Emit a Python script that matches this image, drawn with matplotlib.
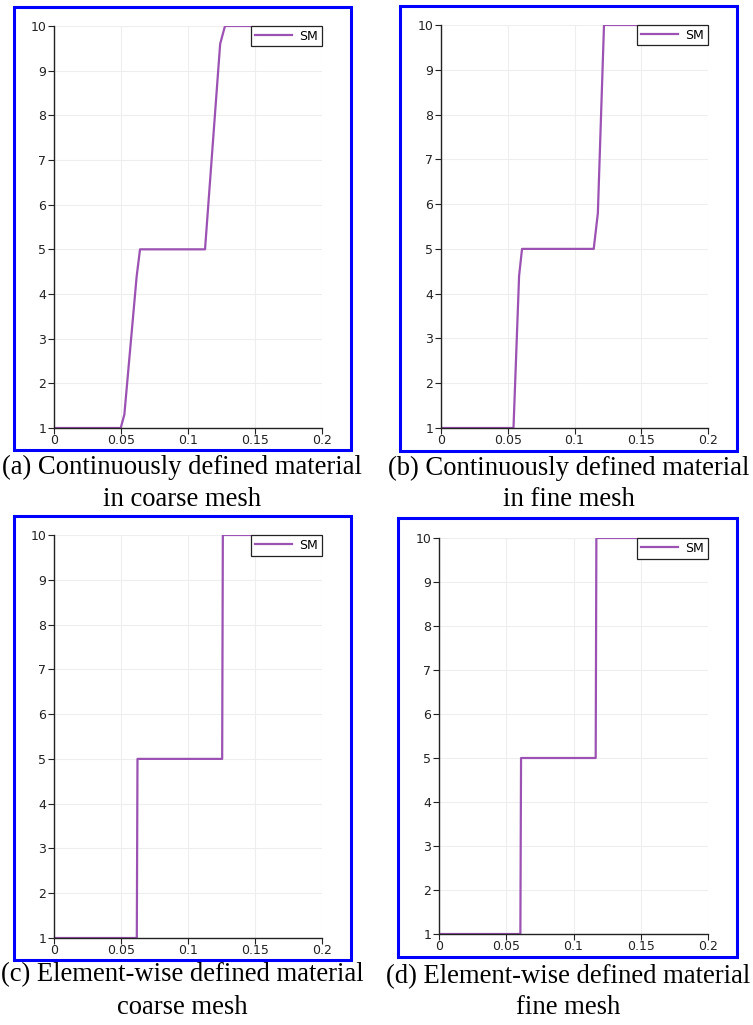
import matplotlib
matplotlib.use("Agg")
import matplotlib.pyplot as plt
from matplotlib.patches import Rectangle

W, H = 753, 1025

# Panel data: position along the bar vs. material value
x_a = [0, 0.0498, 0.0525, 0.0617, 0.0642, 0.1127, 0.1240, 0.1276, 0.2]
y_a = [1, 1, 1.3, 4.4, 5, 5, 9.6, 10, 10]

x_b = [0, 0.0543, 0.0585, 0.0607, 0.1144, 0.1175, 0.1221, 0.2]
y_b = [1, 1, 4.4, 5, 5, 5.8, 10, 10]

x_c = [0, 0.0618, 0.0623, 0.1255, 0.1260, 0.2]
y_c = [1, 1, 5, 5, 10, 10]

x_d = [0, 0.0605, 0.0610, 0.1165, 0.1170, 0.2]
y_d = [1, 1, 5, 5, 10, 10]

series_label = "SM"
x_ticks = [0, 0.05, 0.1, 0.15, 0.2]
x_ticklabels = ["0", "0.05", "0.1", "0.15", "0.2"]
y_ticks = [1, 2, 3, 4, 5, 6, 7, 8, 9, 10]

captions = [
    ("(a) Continuously defined material", "in coarse mesh"),
    ("(b) Continuously defined material", "in fine mesh"),
    ("(c) Element-wise defined material", "coarse mesh"),
    ("(d) Element-wise defined material", "fine mesh"),
]

# layout in pixels: axes (left, right, top, bottom), frame (left, right, top, bottom),
# caption (center x, first-line y, second-line y)
panels = [
    dict(x=x_a, y=y_a, ax=(54, 322, 26, 428), fr=(14, 351, 7, 450), cap=(182, 467, 500)),
    dict(x=x_b, y=y_b, ax=(441, 708, 25, 428), fr=(400, 737, 6, 451), cap=(569, 468, 500)),
    dict(x=x_c, y=y_c, ax=(54, 322, 535, 938), fr=(14, 351, 516, 960), cap=(182, 975, 1008)),
    dict(x=x_d, y=y_d, ax=(439, 708, 538, 934), fr=(398, 737, 518, 957), cap=(568, 977, 1008)),
]

line_color = "#9b52b3"

fig = plt.figure(figsize=(W / 100, H / 100), dpi=100)
fig.patch.set_facecolor("white")

for p, cap in zip(panels, captions):
    l, r, t, b = p["ax"]
    ax = fig.add_axes([l / W, 1 - b / H, (r - l) / W, (b - t) / H])
    ax.plot(p["x"], p["y"], color=line_color, lw=1.6, label=series_label)
    ax.set_xlim(0, 0.2)
    ax.set_ylim(1, 10)
    ax.set_xticks(x_ticks)
    ax.set_xticklabels(x_ticklabels)
    ax.set_yticks(y_ticks)
    ax.grid(True, color="#eeeeee", lw=0.8)
    ax.set_axisbelow(True)
    for s in ("top", "right"):
        ax.spines[s].set_visible(False)
    for s in ("left", "bottom"):
        ax.spines[s].set_color("#222222")
        ax.spines[s].set_linewidth(1.0)
    ax.tick_params(axis="both", labelsize=9, colors="#222222", length=4,
                   width=0.8, pad=1.5)
    ax.tick_params(axis="x", pad=0.5)
    leg = ax.legend(loc="upper right", borderaxespad=0, fancybox=False,
                    frameon=True, fontsize=9, handlelength=3.0,
                    handletextpad=0.6, borderpad=0.3)
    leg.get_frame().set_edgecolor("#222222")
    leg.get_frame().set_linewidth(0.9)
    leg.get_frame().set_alpha(1)

    fl, frr, ft, fb = p["fr"]
    fig.add_artist(Rectangle((fl / W, 1 - fb / H), (frr - fl) / W, (fb - ft) / H,
                             transform=fig.transFigure, fill=False,
                             edgecolor="#0000ff", lw=2.2))

    cx, cy1, cy2 = p["cap"]
    for line, cy in zip(cap, (cy1, cy2)):
        fig.text(cx / W, 1 - cy / H, line, ha="center", va="center",
                 family="Liberation Serif", fontsize=19.2)

fig.savefig("out.png", dpi=100, facecolor="white")
